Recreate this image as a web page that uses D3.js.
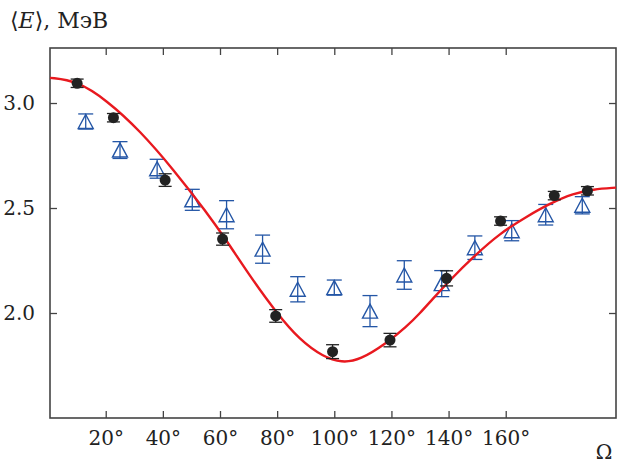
<!DOCTYPE html>
<html>
<head>
<meta charset="utf-8">
<script src="https://cdn.jsdelivr.net/npm/d3@7"></script>
<style>
  body { margin: 0; background: #fff; }
  svg text { font-family: "DejaVu Serif", serif; fill: #222; }
</style>
</head>
<body>
<svg width="618" height="464"></svg>
<script>
// measured points (filled circles)
const omegaDots = [10, 22.7, 40.8, 60.9, 79.5, 99.4, 119.5, 139.3, 158.2, 177, 188.6];
const energyDots = [3.094, 2.930, 2.633, 2.352, 1.986, 1.816, 1.871, 2.165, 2.438, 2.559, 2.582];
const errDots = [0.02, 0.02, 0.03, 0.029, 0.03, 0.033, 0.032, 0.036, 0.02, 0.02, 0.02];

// second data set (open triangles)
const omegaTri = [13, 25, 38, 50.3, 62.3, 74.9, 87.2, 100, 112.5, 124.5, 137.6, 149.2, 162.1, 174, 186.8];
const energyTri = [2.912, 2.776, 2.687, 2.539, 2.468, 2.304, 2.113, 2.121, 2.009, 2.181, 2.14, 2.311, 2.392, 2.468, 2.513];
const errTri = [0.036, 0.04, 0.045, 0.05, 0.067, 0.067, 0.06, 0.036, 0.074, 0.068, 0.062, 0.056, 0.048, 0.049, 0.041];

// fitted curve
const curveOmega = [0.5, 9.8, 20.3, 32, 43.6, 55.3, 62.3, 70.5, 79.8, 88, 96.1, 102.6, 109, 118.3, 125.3, 130, 134.1, 140.5, 148.7, 158, 167.3, 175.5, 183.7, 190.6, 198.6];
const curveE = [3.12, 3.106, 3.014, 2.868, 2.685, 2.48, 2.345, 2.175, 2.0, 1.871, 1.792, 1.763, 1.776, 1.856, 1.935, 1.999, 2.062, 2.157, 2.268, 2.380, 2.459, 2.522, 2.570, 2.589, 2.597];

const xTicks = [20, 40, 60, 80, 100, 120, 140, 160];
const yTicks = [2.0, 2.5, 3.0];

const pLeft = 50, pRight = 616, pTop = 48, pBottom = 418;

const x = d3.scaleLinear().domain([0.5, 198.6]).range([pLeft, pRight]);
const y = d3.scaleLinear().domain([1.5, 3.262]).range([pBottom, pTop]);

const svg = d3.select('svg');
const axisColor = '#444';
const fontSize = 20;

// ticks on all sides, pointing inward
const tickLen = 7;
svg.append('g').attr('transform', `translate(0,${pBottom})`)
    .call(d3.axisBottom(x).tickValues(xTicks).tickSize(-tickLen).tickFormat(d => d + '°').tickPadding(13))
    .call(g => g.select('.domain').remove())
    .call(g => g.selectAll('line').attr('stroke', axisColor).attr('stroke-width', 1.3))
    .call(g => g.selectAll('text').attr('font-size', fontSize));
svg.append('g').attr('transform', `translate(0,${pTop})`)
    .call(d3.axisTop(x).tickValues(xTicks).tickSize(-tickLen).tickFormat(''))
    .call(g => g.select('.domain').remove())
    .call(g => g.selectAll('line').attr('stroke', axisColor).attr('stroke-width', 1.3));
svg.append('g').attr('transform', `translate(${pLeft},0)`)
    .call(d3.axisLeft(y).tickValues(yTicks).tickSize(-tickLen).tickFormat(d3.format('.1f')).tickPadding(15))
    .call(g => g.select('.domain').remove())
    .call(g => g.selectAll('line').attr('stroke', axisColor).attr('stroke-width', 1.3))
    .call(g => g.selectAll('text').attr('font-size', fontSize));
svg.append('g').attr('transform', `translate(${pRight},0)`)
    .call(d3.axisRight(y).tickValues(yTicks).tickSize(-tickLen).tickFormat(''))
    .call(g => g.select('.domain').remove())
    .call(g => g.selectAll('line').attr('stroke', axisColor).attr('stroke-width', 1.3));

// frame
svg.append('rect')
    .attr('x', pLeft).attr('y', pTop)
    .attr('width', pRight - pLeft).attr('height', pBottom - pTop)
    .attr('fill', 'none').attr('stroke', axisColor).attr('stroke-width', 1.6);

// axis titles
const yTitle = svg.append('text').attr('x', 10).attr('y', 28).attr('font-size', 22);
yTitle.append('tspan').text('⟨');
yTitle.append('tspan').attr('font-style', 'italic').text('E');
yTitle.append('tspan').text('⟩, МэВ');

svg.append('text').attr('x', 604).attr('y', 459).attr('text-anchor', 'middle')
    .attr('font-size', fontSize).text('Ω');

const plot = svg.append('g');

// triangles with error bars
const blue = '#2456a6';
const tri = omegaTri.map((o, i) => ({ o, e: energyTri[i], err: errTri[i] }));
const tg = plot.selectAll('.tri').data(tri).enter().append('g').classed('tri', true);
tg.append('line')
    .attr('x1', d => x(d.o)).attr('x2', d => x(d.o))
    .attr('y1', d => y(d.e + d.err)).attr('y2', d => y(d.e - d.err))
    .attr('stroke', blue).attr('stroke-width', 1.3);
[1, -1].forEach(s => {
  tg.append('line')
      .attr('x1', d => x(d.o) - 7.5).attr('x2', d => x(d.o) + 7.5)
      .attr('y1', d => y(d.e + s * d.err)).attr('y2', d => y(d.e + s * d.err))
      .attr('stroke', blue).attr('stroke-width', 1.3);
});
tg.append('path')
    .attr('transform', d => `translate(${x(d.o)},${y(d.e)})`)
    .attr('d', 'M0,-7L7.5,7L-7.5,7Z')
    .attr('fill', 'none').attr('stroke', blue).attr('stroke-width', 1.4);

// fitted curve
const line = d3.line().x(d => x(d[0])).y(d => y(d[1])).curve(d3.curveBasis);
plot.append('path')
    .datum(curveOmega.map((o, i) => [o, curveE[i]]))
    .attr('d', line)
    .attr('fill', 'none').attr('stroke', '#e8191f').attr('stroke-width', 2.4);

// filled circles with error bars
const dots = omegaDots.map((o, i) => ({ o, e: energyDots[i], err: errDots[i] }));
const dg = plot.selectAll('.dot').data(dots).enter().append('g').classed('dot', true);
dg.append('line')
    .attr('x1', d => x(d.o)).attr('x2', d => x(d.o))
    .attr('y1', d => y(d.e + d.err)).attr('y2', d => y(d.e - d.err))
    .attr('stroke', '#222').attr('stroke-width', 1.3);
[1, -1].forEach(s => {
  dg.append('line')
      .attr('x1', d => x(d.o) - 6.5).attr('x2', d => x(d.o) + 6.5)
      .attr('y1', d => y(d.e + s * d.err)).attr('y2', d => y(d.e + s * d.err))
      .attr('stroke', '#222').attr('stroke-width', 1.3);
});
dg.append('circle')
    .attr('cx', d => x(d.o)).attr('cy', d => y(d.e))
    .attr('r', 5.5).attr('fill', '#222');
</script>
</body>
</html>
